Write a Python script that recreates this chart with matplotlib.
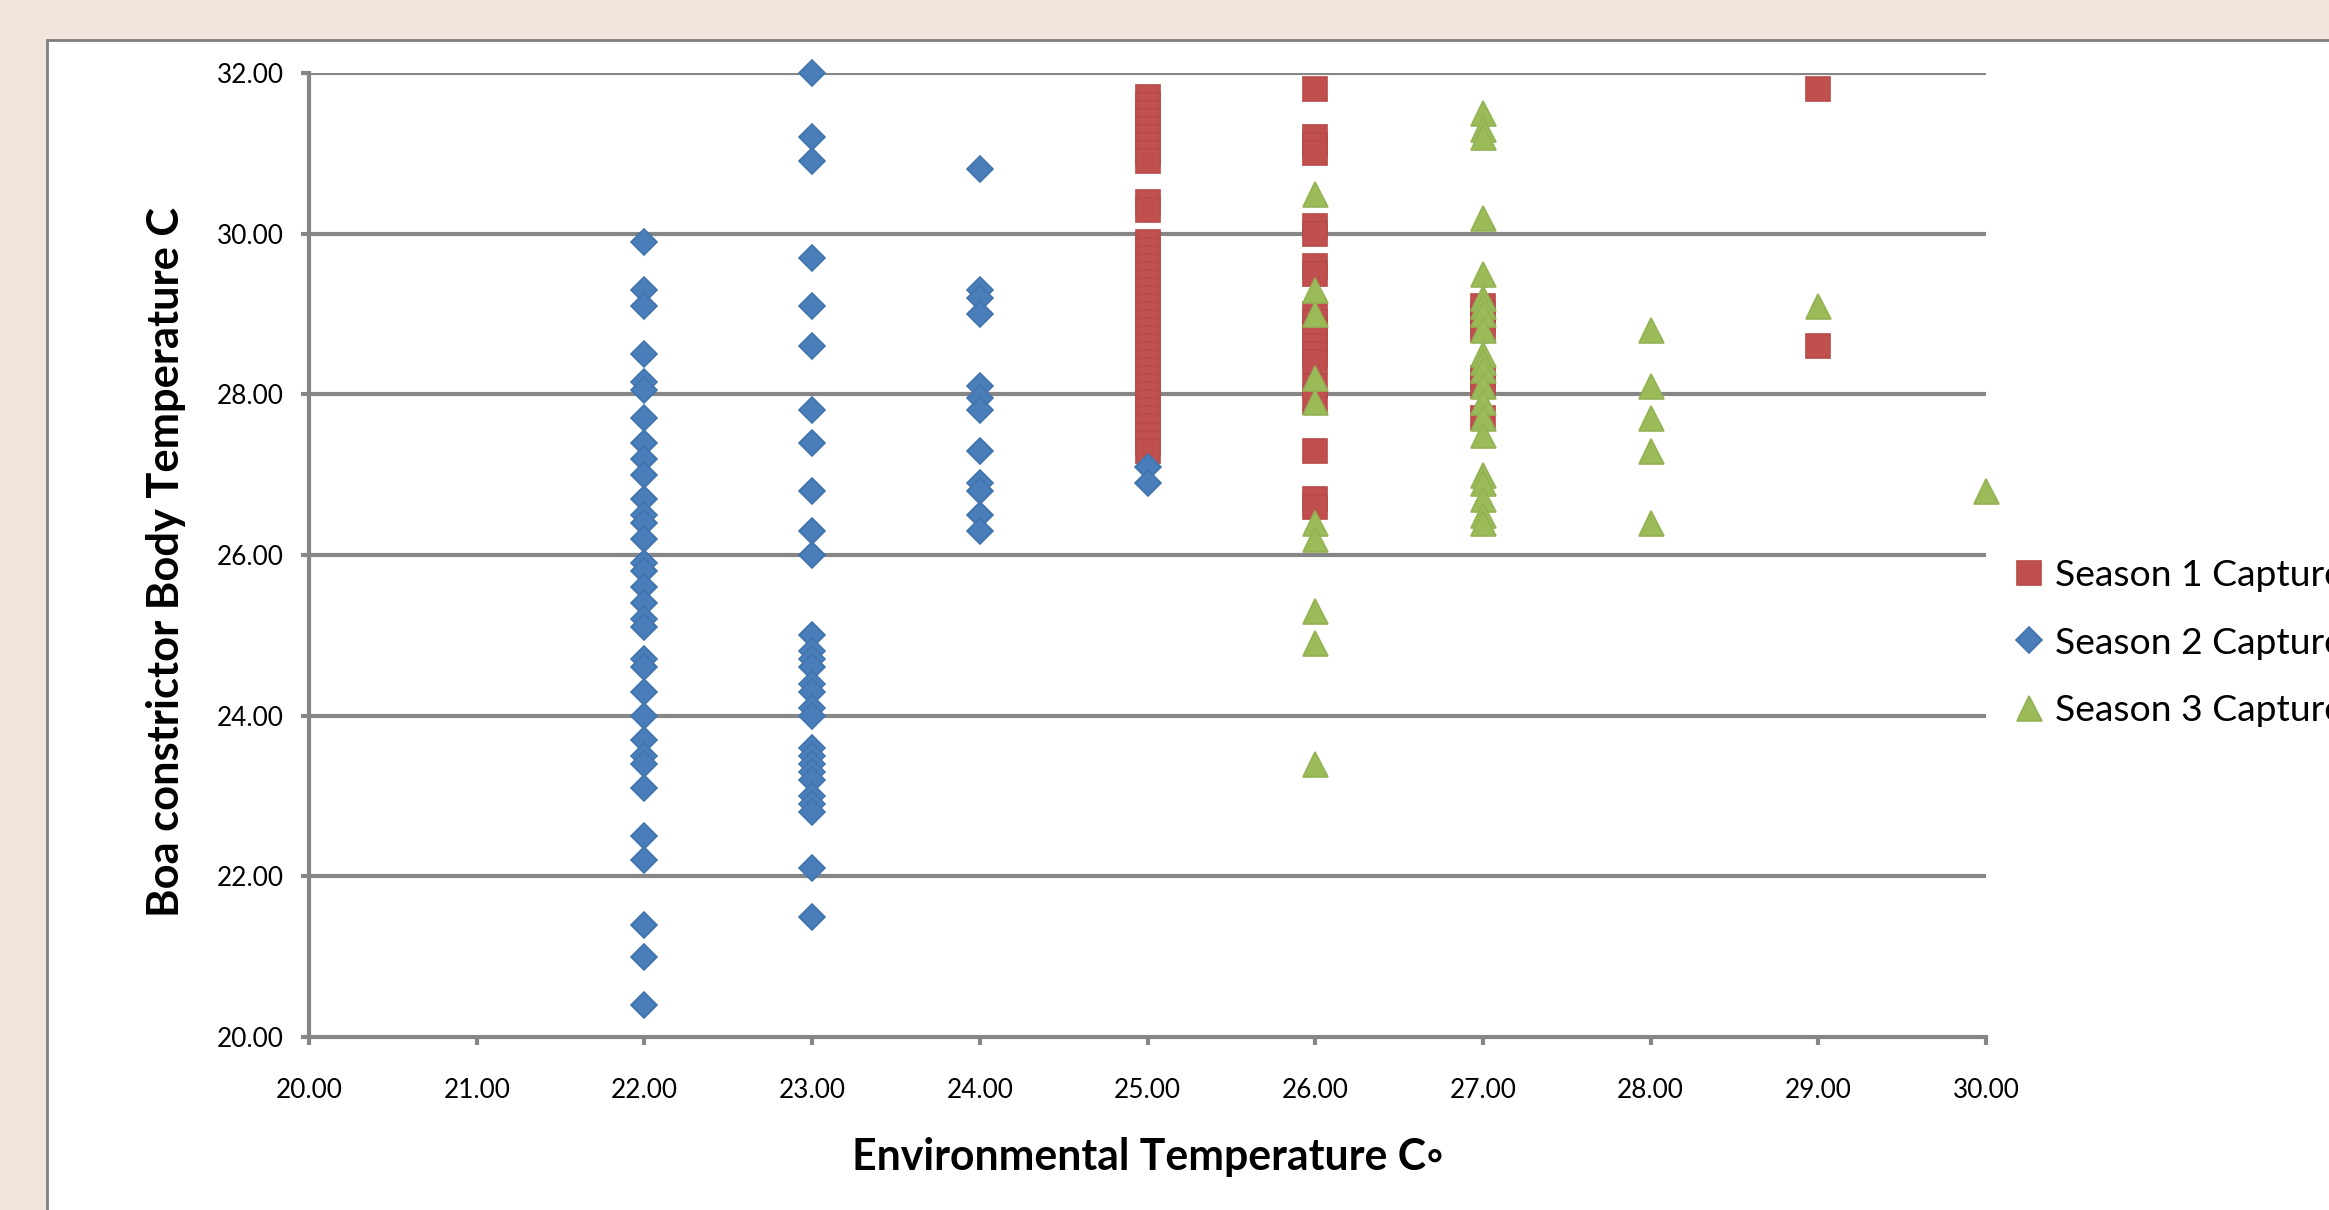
import matplotlib
matplotlib.use("Agg")
import matplotlib.pyplot as plt
from matplotlib.patches import Rectangle

# body temperature readings, grouped by environmental temperature
season1 = {
    25: [31.7, 31.6, 31.5, 31.4, 31.3, 31.2, 31.1, 31.0, 30.9, 30.4, 30.3,
         29.9, 29.8, 29.7, 29.6, 29.5, 29.4, 29.3, 29.2, 29.1, 29.0, 28.9,
         28.8, 28.7, 28.6, 28.5, 28.4, 28.3, 28.2, 28.1, 28.0, 27.9, 27.8,
         27.7, 27.6, 27.5, 27.4, 27.3],
    26: [31.8, 31.2, 31.1, 31.0, 30.1, 30.0, 29.6, 29.5, 29.0, 28.9, 28.8,
         28.6, 28.5, 28.4, 28.1, 27.9, 27.3, 26.7, 26.6],
    27: [29.1, 29.0, 28.9, 28.8, 28.2, 28.1, 27.7],
    29: [31.8, 28.6],
}
season2 = {
    22: [29.9, 29.3, 29.1, 28.5, 28.15, 28.05, 27.7, 27.4, 27.2, 27.0, 26.7,
         26.5, 26.4, 26.2, 25.9, 25.8, 25.6, 25.4, 25.2, 25.1, 24.7, 24.6,
         24.3, 24.0, 23.7, 23.5, 23.4, 23.1, 22.5, 22.2, 21.4, 21.0, 20.4],
    23: [32.0, 31.2, 30.9, 29.7, 29.1, 28.6, 27.8, 27.4, 26.8, 26.3, 26.0,
         25.0, 24.8, 24.7, 24.6, 24.4, 24.3, 24.1, 24.0, 23.6, 23.5, 23.4,
         23.3, 23.2, 23.0, 22.9, 22.8, 22.1, 21.5],
    24: [30.8, 29.3, 29.2, 29.0, 28.1, 27.95, 27.8, 27.3, 26.9, 26.8, 26.5,
         26.3],
    25: [27.1, 26.9],
}
season3 = {
    26: [30.5, 29.3, 29.0, 28.2, 27.9, 26.4, 26.2, 25.3, 24.9, 23.4],
    27: [31.5, 31.3, 31.2, 30.2, 29.5, 29.2, 29.1, 29.0, 28.8, 28.5, 28.4,
         28.3, 28.1, 27.9, 27.7, 27.5, 27.0, 26.9, 26.7, 26.5, 26.4],
    28: [28.8, 28.1, 27.7, 27.3, 26.4],
    29: [29.1],
    30: [26.8],
}

labels = ["Season 1 Capture", "Season 2 Capture", "Season 3 Capture"]
colors = ["#C0504D", "#4A7EBB", "#9BBB59"]
edges = ["#B84A47", "#4275B0", "#93B254"]
markers = ["s", "D", "^"]
sizes = [8.4, 6.4, 9.0]

x_ticks = [20, 21, 22, 23, 24, 25, 26, 27, 28, 29, 30]
y_ticks = [20, 22, 24, 26, 28, 30, 32]


def flatten(groups):
    xs, ys = [], []
    for env, vals in groups.items():
        for v in vals:
            xs.append(env)
            ys.append(v)
    return xs, ys


plt.rcParams['font.family'] = ['Lato', 'DejaVu Sans']

fig = plt.figure(figsize=(11.645, 6.05), dpi=200)
fig.patch.set_facecolor("#F2E5DD")

# white chart area with grey border, running off the right and bottom
fig.patches.append(Rectangle((47 / 2329, -0.2), 1.2, 1.2 - 40 / 1210,
                             transform=fig.transFigure, facecolor="white",
                             edgecolor="#7F7F7F", linewidth=1.0, zorder=-1))

ax = fig.add_axes([309 / 2329, 1 - 1037 / 1210, (1986 - 309) / 2329,
                   (1037 - 73) / 1210])
ax.set_facecolor("none")

grid_col = "#868686"
for y in y_ticks[1:]:
    ax.axhline(y, color=grid_col, linewidth=1.5, zorder=1)

handles = []
for grp, lab, c, ec, m, s in zip([season1, season2, season3], labels, colors,
                                 edges, markers, sizes):
    xs, ys = flatten(grp)
    h, = ax.plot(xs, ys, linestyle="none", marker=m, markersize=s,
                 markerfacecolor=c, markeredgecolor=ec, markeredgewidth=0.6,
                 label=lab, zorder=3, clip_on=False)
    handles.append(h)

ax.set_xlim(20, 30)
ax.set_ylim(20, 32)
ax.set_xticks(x_ticks)
ax.set_yticks(y_ticks)
ax.set_xticklabels(["{:.2f}".format(v) for v in x_ticks])
ax.set_yticklabels(["{:.2f}".format(v) for v in y_ticks])

for side in ["top", "right"]:
    ax.spines[side].set_visible(False)
for side in ["left", "bottom"]:
    ax.spines[side].set_color(grid_col)
    ax.spines[side].set_linewidth(1.5)

ax.tick_params(axis="both", direction="out", length=3, width=1.5,
               color=grid_col, labelsize=9.4, labelcolor="black")
ax.tick_params(axis="y", pad=6)
ax.tick_params(axis="x", pad=11.6)

fig.text(166 / 2329, 1 - 562 / 1210, "Boa constrictor Body Temperature C",
         rotation=90, ha="center", va="center", fontsize=15.6,
         fontweight="bold")
fig.text(1148 / 2329, 1 - 1157 / 1210, "Environmental Temperature C\u25e6",
         ha="center", va="center", fontsize=15.4, fontweight="bold")

# legend runs off the right edge, as in the original
fig.legend(handles=handles, labels=labels, loc="center left",
           bbox_to_anchor=(0.8648, 1 - 643 / 1210), frameon=False,
           fontsize=13.4, handlelength=0.8, handletextpad=0.3,
           borderpad=0, borderaxespad=0, labelspacing=0.92, numpoints=1)

plt.savefig("out.png", dpi=200, facecolor=fig.get_facecolor())
